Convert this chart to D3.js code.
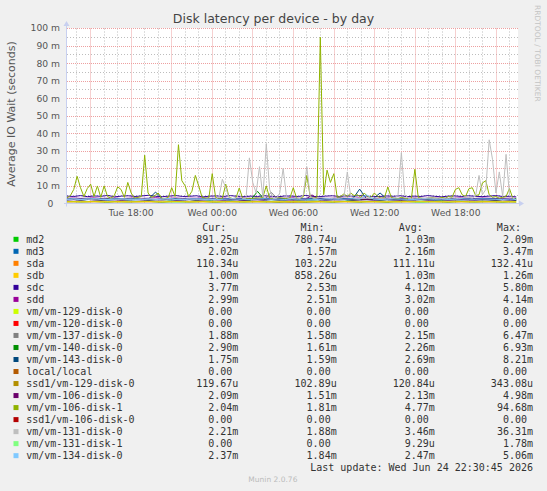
<!DOCTYPE html>
<html>
<head>
<meta charset="utf-8">
<script src="https://cdn.jsdelivr.net/npm/d3@7"></script>
<style>
  body { margin: 0; background: #f0f0f0; }
  svg { display: block; }
</style>
</head>
<body>
<div id="chart"></div>
<script>
// canvas and plot box
const W = 547, H = 491;
const plot = {left: 67, right: 518, top: 28, bottom: 203.5};

// time window (munin "day" = 2000 minutes)
const xStart = new Date(2026, 5, 23, 13, 18);
const xEnd = new Date(2026, 5, 24, 22, 38);
const dataStart = new Date(2026, 5, 23, 13, 18);
const dataEnd = new Date(2026, 5, 24, 22, 30);

const seriesNames = ["md2", "md3", "sda", "sdb", "sdc", "sdd", "vm/vm-129-disk-0", "vm/vm-120-disk-0",
  "vm/vm-137-disk-0", "vm/vm-140-disk-0", "vm/vm-143-disk-0", "local/local", "ssd1/vm-129-disk-0",
  "vm/vm-106-disk-0", "vm/vm-106-disk-1", "ssd1/vm-106-disk-0", "vm/vm-131-disk-0", "vm/vm-131-disk-1",
  "vm/vm-134-disk-0"];

const palette = ["#00cc00", "#0066b3", "#ff8000", "#ffcc00", "#330099", "#990099", "#ccff00", "#ff0000",
  "#808080", "#008f00", "#00487d", "#b35a00", "#b38f00", "#6b006b", "#8fb300", "#b30000", "#bebebe",
  "#80ff80", "#80c9ff"];

// values in milliseconds, evenly spaced from dataStart to dataEnd
const md2 = [1.05,1.10,0.92,1.02,1.15,0.98,0.82,1.08,1.01,0.93,1.04,1.12,1.20,0.99,0.80,1.03,1.09,1.00,0.90,1.02,1.14,0.97,0.84,1.05,1.10,1.01,0.91,1.03,1.08,0.99,1.02,0.81,1.06,1.00,1.04,0.89,1.01,1.11,0.98,0.83,1.03,1.16,1.00,0.86,1.04,1.09,0.99,0.80,1.02,1.05,1.12,0.98,0.82,1.03,1.07,1.00,0.80,1.02,1.13,0.99,0.91,1.04,1.08,1.00,0.82,1.02,0.89];
const md3 = [2.1,2.3,2.0,2.2,2.5,2.1,1.9,2.2,2.4,2.0,2.1,2.3,2.0,2.2,2.6,2.1,1.9,2.0,2.3,2.1,2.2,2.0,2.4,2.1,2.0,2.2,1.8,2.1,2.3,2.0,2.2,2.1,1.9,2.4,2.2,2.0,2.1,2.3,2.0,2.2,3.4,2.1,2.0,2.2,2.3,2.1,1.9,2.2,2.0,2.4,2.1,2.0,2.3,2.1,1.9,2.2,2.0,2.3,2.1,2.2,2.0,2.4,2.1,1.9,2.2,2.1,2.02];
const sda = [0.11,0.11,0.12,0.11,0.11,0.11,0.12,0.11,0.11,0.11,0.11,0.12,0.11,0.11,0.11,0.11,0.11];
const sdb = [1.03,1.05,1.01,1.04,1.08,1.02,1.00,1.04,1.06,1.01,1.03,1.05,1.10,1.02,1.00,1.03,1.07,1.01,1.02,1.04,1.06,1.01,0.99,1.03,1.05,1.02,1.00,1.04,1.06,1.01,1.03,1.00,1.05,1.02,1.04,1.00,1.03,1.07,1.01,1.00,1.03,1.08,1.02,1.00,1.04,1.06,1.01,0.99,1.03,1.04,1.07,1.02,1.00,1.03,1.05,1.01,0.99,1.03,1.06,1.02,1.00,1.04,1.05,1.01,1.00,1.02,1.00];
const sdc = [4.2,4.0,4.5,3.9,4.3,4.1,4.6,3.8,4.2,4.4,4.0,4.3,4.7,4.1,3.9,4.2,4.5,4.0,4.1,4.4,3.8,4.2,4.3,4.0,4.5,4.1,3.9,4.2,4.0,4.4,4.1,3.8,4.3,4.2,4.0,4.6,4.1,3.9,4.2,4.4,4.0,4.3,4.1,4.5,4.2,3.9,4.0,4.3,4.1,4.4,3.9,4.2,4.0,4.5,4.1,3.8,4.2,4.3,4.0,4.4,4.1,3.9,4.2,4.5,4.0,4.1,3.77];
const sdd = [3.0,3.1,2.9,3.0,3.2,2.9,3.0,3.1,2.8,3.0,3.1,2.9,3.0,3.3,2.9,3.0,3.1,2.9,3.0,3.0,3.2,2.9,3.0,3.1,2.8,3.0,3.1,2.9,3.0,3.0,3.1,2.9,3.0,3.2,3.0,2.9,3.1,3.0,2.9,3.0,3.1,3.0,2.9,3.2,3.0,2.9,3.0,3.1,3.0,2.9,3.0,3.1,2.9,3.0,3.0,3.1,2.9,3.0,3.2,3.0,2.9,3.1,3.0,2.9,3.0,3.0,2.99];
const vm129 = [0,0,0,0,0,0,0,0,0,0,0,0];
const vm120 = [0,0,0,0,0,0,0,0,0,0,0,0];
const vm137 = [2.1,2.2,2.0,2.3,2.1,2.0,2.2,2.4,2.1,2.0,2.2,2.1,2.3,2.0,2.1,2.2,2.0,2.1,2.3,2.1,2.0,2.2,2.1,2.0,2.3,2.2,2.1,2.0,2.2,2.1,6.4,2.2,2.0,2.1,2.3,2.1,2.0,2.2,2.1,2.0,2.2,2.3,2.1,2.0,2.2,2.1,2.0,2.3,2.1,2.2,2.0,2.1,2.2,2.0,2.3,2.1,2.0,2.2,2.1,2.0,2.2,2.1,2.3,2.0,2.1,2.0,1.88];
const vm140 = [2.2,2.4,2.1,2.3,2.2,2.0,2.5,2.3,2.1,2.2,2.4,2.2,2.0,2.3,2.2,2.1,2.4,2.3,2.2,2.0,2.3,2.1,2.2,2.4,2.1,2.3,2.2,2.0,6.9,2.3,2.2,2.1,2.4,2.2,2.0,2.3,2.2,2.1,2.4,2.3,2.2,2.1,2.0,2.3,2.2,2.4,2.1,2.2,2.3,2.0,2.2,2.4,2.1,2.3,2.2,2.0,2.3,2.1,2.2,2.4,2.3,2.1,2.2,2.0,2.3,2.2,2.9];
const vm143 = [2.6,2.7,2.5,2.8,2.6,2.7,2.5,2.9,2.6,2.7,2.8,2.5,2.6,6.5,2.7,2.6,2.8,2.5,2.7,2.6,2.9,2.6,2.7,2.5,2.8,2.6,2.7,2.6,2.5,2.8,2.7,2.6,2.9,2.5,2.7,2.6,2.8,2.6,2.7,2.5,2.6,2.8,2.7,8.2,2.6,2.7,6.0,2.6,2.8,2.5,2.7,2.6,2.9,2.6,2.7,2.5,2.8,2.6,2.7,2.6,2.5,2.8,2.7,2.6,2.5,2.4,1.75];
const localLocal = [0,0,0,0,0,0,0,0,0,0,0,0];
const ssd1vm129 = [0.12,0.12,0.12,0.13,0.12,0.12,0.12,0.12,0.34,0.12,0.12,0.12,0.12,0.12,0.12,0.12,0.12];
const vm106d0 = [2.1,2.2,2.0,2.3,2.1,2.0,2.2,2.1,1.9,2.2,2.3,2.1,2.0,2.2,2.1,2.4,2.0,2.1,2.2,2.0,2.1,2.3,2.1,2.0,2.2,2.1,1.9,2.2,2.1,2.0,2.3,2.1,2.2,2.0,2.1,2.2,4.9,2.1,2.0,2.2,2.1,2.3,2.0,2.1,2.2,2.0,2.1,2.2,2.1,1.9,2.2,2.1,2.3,2.0,2.1,2.2,2.0,2.1,2.3,2.1,2.0,2.2,2.1,2.0,2.2,2.1,2.09];
const vm106d1 = [3.2,4.5,8,15.5,9,4,8.5,11,4,10,3.5,10,4,3,4.5,9.5,8,3.5,12,6,
  3,3.5,4,27.5,6,3.5,4.5,6,3,2.8,3.5,9,4,33.5,13,10,4,7,16,10,
  3.5,3,3.2,17,3.5,2.5,3,11,3.5,2.8,3,8.8,3,2.6,3,2.8,3.2,3,3.5,10,
  3,2.7,3,3.3,3,2.8,3.2,9,3,2.8,4,16,4,3,3.5,94.7,5,19,12,17,
  3.5,4,5.5,4,6,4.5,5,3.5,6,4,3.5,6,4,3,3.5,9.4,3.5,3,2.8,3.5,
  3,2.7,3.2,19.5,3.5,3,2.8,3,3.2,3,2.8,3.5,3,4,3.5,8,9,5,4,8.4,
  9,4.5,5,11.7,13,5,3.5,4,3,3.5,4,8.5,3,2.04];
const ssd1vm106 = [0,0,0,0,0,0,0,0,0,0,0,0];
const vm131d0 = [2.5,2.4,2.6,2.5,2.3,2.5,2.6,2.4,2.5,2.7,2.4,2.5,2.3,2.6,2.5,2.4,2.5,2.6,2.4,2.5,
  2.3,2.5,2.7,2.4,2.5,2.6,2.4,2.3,2.5,2.6,2.4,2.5,2.3,2.6,2.5,2.4,2.7,2.5,2.4,2.5,
  2.6,2.4,2.5,2.3,2.6,3.5,13.8,9.0,3.2,2.8,3.0,5.0,2.8,3.1,26.0,12.0,6.0,21.0,3.5,34.0,
  8.0,3.0,2.8,6.0,20.0,3.5,2.7,2.9,3.2,2.8,5.0,21.0,4.0,2.9,3.0,3.5,3.2,3.0,2.8,3.1,
  2.9,3.0,3.5,18.0,4.0,3.0,2.8,3.1,2.9,3.0,2.8,3.2,3.0,2.9,3.1,3.0,2.8,3.2,4.5,29.0,
  5.0,3.0,2.8,3.1,2.9,3.0,2.8,3.2,3.0,2.9,3.1,2.8,3.0,2.9,3.2,3.0,2.8,3.1,4.0,3.5,
  3.0,4.5,16.0,5.0,8.0,36.3,25.0,6.0,18.0,4.0,28.0,5.0,3.0,2.21];
const vm131d1 = [0,0,0,0,0,0,0,0,0.3,0,0,0,0,0,0,0,0,0,0,0,0,0,0,0,0,0,0.3,0,0,0,0,0,0,0];
const vm134 = [2.4,2.6,2.3,2.5,2.7,2.4,2.3,2.5,2.6,2.4,2.5,2.3,2.6,2.4,2.5,2.8,2.4,2.3,2.5,2.6,2.4,2.5,2.3,2.4,2.6,2.5,2.4,2.3,2.5,2.7,2.4,2.5,2.3,2.6,2.4,2.5,2.4,2.3,2.6,2.5,2.4,2.5,2.7,2.4,5.0,2.5,2.3,2.4,2.6,2.5,2.4,2.3,2.5,2.6,2.4,2.5,2.3,2.4,2.6,2.5,2.4,2.6,2.5,2.4,2.3,2.5,2.37];

const seriesValues = [md2, md3, sda, sdb, sdc, sdd, vm129, vm120, vm137, vm140, vm143, localLocal,
  ssd1vm129, vm106d0, vm106d1, ssd1vm106, vm131d0, vm131d1, vm134];

// legend columns (as printed)
const curCol = ["891.25u","2.02m","110.34u","1.00m","3.77m","2.99m","0.00","0.00","1.88m","2.90m","1.75m","0.00","119.67u","2.09m","2.04m","0.00","2.21m","0.00","2.37m"];
const minCol = ["780.74u","1.57m","103.22u","858.26u","2.53m","2.51m","0.00","0.00","1.58m","1.61m","1.59m","0.00","102.89u","1.51m","1.81m","0.00","1.88m","0.00","1.84m"];
const avgCol = ["1.03m","2.16m","111.11u","1.03m","4.12m","3.02m","0.00","0.00","2.15m","2.26m","2.69m","0.00","120.84u","2.13m","4.77m","0.00","3.46m","9.29u","2.47m"];
const maxCol = ["2.09m","3.47m","132.41u","1.26m","5.80m","4.14m","0.00","0.00","6.47m","6.93m","8.21m","0.00","343.08u","4.98m","94.68m","0.00","36.31m","1.78m","5.06m"];
const colHeads = ["Cur:", "Min:", "Avg:", "Max:"];

const svg = d3.select("#chart").append("svg")
  .attr("width", W).attr("height", H);

svg.append("rect").attr("width", W).attr("height", H).attr("fill", "#f0f0f0");

const x = d3.scaleTime().domain([xStart, xEnd]).range([plot.left, plot.right]);
const y = d3.scaleLinear().domain([0, 100]).range([plot.bottom, plot.top]);

// plot background
svg.append("rect")
  .attr("x", plot.left).attr("y", plot.top)
  .attr("width", plot.right - plot.left).attr("height", plot.bottom - plot.top)
  .attr("fill", "#ffffff");

// grid: dotted lines, minor first then major
const minorY = d3.range(5, 100, 10);
const majorY = d3.range(10, 101, 10);
const minorX = x.ticks(d3.timeHour.every(1)).filter(d => d.getHours() % 3 !== 0);
const majorX = x.ticks(d3.timeHour.every(3));
const grid = svg.append("g").attr("fill", "none").attr("stroke-width", 1);

function hLines(vals, color, dash) {
  grid.append("g").selectAll("path").data(vals).join("path")
    .attr("d", d => `M${plot.left},${Math.round(y(d)) + 0.5}H${plot.right}`)
    .attr("stroke", color).attr("stroke-dasharray", dash);
}
function vLines(vals, color, dash) {
  grid.append("g").selectAll("path").data(vals).join("path")
    .attr("d", d => `M${Math.round(x(d)) + 0.5},${plot.bottom}V${plot.top}`)
    .attr("stroke", color).attr("stroke-dasharray", dash);
}
hLines(minorY, "#bdbdbd", "1 2");
vLines(minorX, "#bdbdbd", "1 2");
hLines(majorY, "#eda0a0", "1 1");
vLines(majorX, "#eda0a0", "1 1");

// series lines
svg.append("clipPath").attr("id", "clip").append("rect")
  .attr("x", plot.left).attr("y", plot.top - 2)
  .attr("width", plot.right - plot.left).attr("height", plot.bottom - plot.top + 2);

const line = d3.line().x(d => x(d.t)).y(d => y(d.v));
const lines = svg.append("g").attr("clip-path", "url(#clip)");
seriesValues.forEach((vals, k) => {
  const n = vals.length;
  const pts = vals.map((v, i) => ({t: new Date(+dataStart + i * (dataEnd - dataStart) / (n - 1)), v: v}));
  lines.append("path").datum(pts)
    .attr("d", line)
    .attr("fill", "none")
    .attr("stroke", palette[k])
    .attr("stroke-width", 1)
    .attr("stroke-linejoin", "round");
});

// axes lines with arrows
const axisColor = "#c8d0f0";
svg.append("line").attr("x1", plot.left - 3).attr("x2", plot.right + 2)
  .attr("y1", plot.bottom).attr("y2", plot.bottom).attr("stroke", axisColor);
svg.append("path").attr("d", `M${plot.right + 6},${plot.bottom} l-5,-3 l0,6 z`).attr("fill", axisColor);
svg.append("line").attr("x1", plot.left - 0.5).attr("x2", plot.left - 0.5)
  .attr("y1", plot.bottom + 3).attr("y2", plot.top - 3).attr("stroke", axisColor);
svg.append("path").attr("d", `M${plot.left - 0.5},${plot.top - 7} l-3,5 l6,0 z`).attr("fill", axisColor);

// tick labels through d3 axes
const yAxis = svg.append("g")
  .attr("transform", `translate(${plot.left},0)`)
  .call(d3.axisLeft(y).tickValues(d3.range(0, 101, 10)).tickSize(0).tickPadding(7)
    .tickFormat(d => d === 0 ? "0" : d + " m"));
yAxis.select(".domain").remove();
yAxis.selectAll("text")
  .attr("font-family", "DejaVu Sans").attr("font-size", "9.2px").attr("fill", "#555")
  .attr("dx", d => d === 0 ? -6.7 : 0);

const xAxis = svg.append("g")
  .attr("transform", `translate(0,${plot.bottom})`)
  .call(d3.axisBottom(x).ticks(d3.timeHour.every(6)).tickSize(0).tickPadding(5.6)
    .tickFormat(d3.timeFormat("%a %H:%M")));
xAxis.select(".domain").remove();
xAxis.selectAll("text")
  .attr("font-family", "DejaVu Sans").attr("font-size", "9.2px").attr("fill", "#555");

// title and side texts
svg.append("text").attr("x", W / 2).attr("y", 23)
  .attr("text-anchor", "middle")
  .attr("font-family", "DejaVu Sans").attr("font-size", "12.5px").attr("fill", "#444")
  .text("Disk latency per device - by day");

svg.append("text")
  .attr("transform", "translate(14.5,114) rotate(-90)")
  .attr("text-anchor", "middle")
  .attr("font-family", "DejaVu Sans").attr("font-size", "11px").attr("fill", "#555")
  .text("Average IO Wait (seconds)");

svg.append("text")
  .attr("transform", "translate(535,5) rotate(90)")
  .attr("font-family", "DejaVu Sans").attr("font-size", "7.5px").attr("fill", "#c4c4c4")
  .text("RRDTOOL / TOBI OETIKER");

// legend
const colRight = [238.3, 336.7, 434.8, 533];
const charW = 6.02;
const rowY = i => 239.3 + i * 12.02;
const legend = svg.append("g")
  .attr("font-family", "DejaVu Sans Mono").attr("font-size", "10px").attr("fill", "#333");

legend.selectAll(".head").data(colHeads).join("text")
  .attr("x", (d, i) => colRight[i] - 2 * charW).attr("y", 227.8 + 3.5)
  .attr("text-anchor", "end").text(d => d);

const rows = legend.selectAll(".row").data(seriesNames).join("g")
  .attr("transform", (d, i) => `translate(0,${rowY(i)})`);
rows.append("rect").attr("x", 13.5).attr("y", -2.5).attr("width", 5).attr("height", 5)
  .attr("fill", (d, i) => palette[i]);
rows.append("text").attr("x", 26.2).attr("y", 3.5).text(d => d);

[curCol, minCol, avgCol, maxCol].forEach((col, c) => {
  rows.append("text")
    .attr("x", (d, i) => /[um]$/.test(col[i]) ? colRight[c] : colRight[c] - charW)
    .attr("y", 3.5).attr("text-anchor", "end")
    .text((d, i) => col[i]);
});

legend.append("text").attr("x", 533).attr("y", 467.3 + 3.5).attr("text-anchor", "end")
  .text("Last update: Wed Jun 24 22:30:45 2026");

svg.append("text").attr("x", 272.9).attr("y", 482)
  .attr("text-anchor", "middle")
  .attr("font-family", "DejaVu Sans").attr("font-size", "7.5px").attr("fill", "#bbbbbb")
  .text("Munin 2.0.76");
</script>
</body>
</html>
